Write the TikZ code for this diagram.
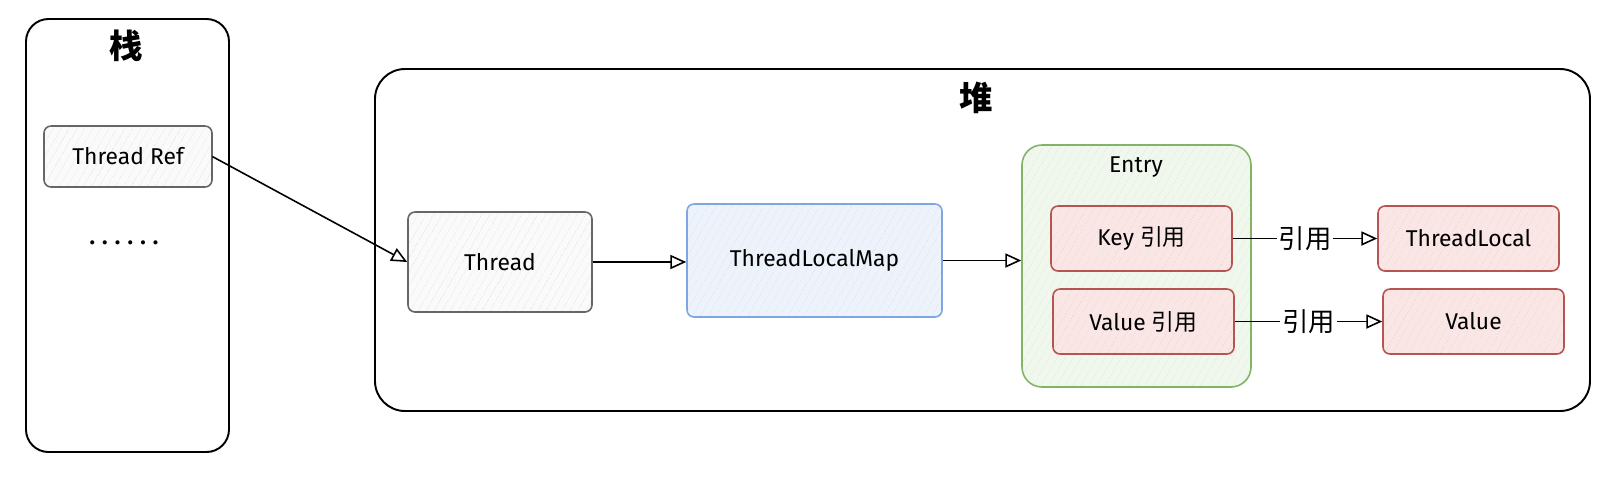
\documentclass[tikz,border=0pt]{standalone}
\usepackage{fontspec}
\setmainfont{Fira Sans}
\newfontfamily\cjk{Noto Sans CJK SC}
\usetikzlibrary{arrows.meta,patterns.meta,positioning}

\definecolor{grayline}{HTML}{666666}
\definecolor{mapline}{HTML}{7EA6E0}
\definecolor{mapfill}{HTML}{EEF3FB}
\definecolor{refline}{HTML}{B85450}
\definecolor{reffill}{HTML}{FAE6E5}
\definecolor{entryline}{HTML}{82B366}
\definecolor{entryfill}{HTML}{F0F7ED}

\tikzset{
  box/.style={draw, rounded corners=4pt, line width=0.9pt, minimum width=3.62cm,
    minimum height=1.3cm, font=\fontsize{13}{15}\selectfont},
  hatch/.style={pattern={Lines[angle=60,distance=4pt,line width=0.35pt]}, pattern color=#1},
  graybox/.style={box, draw=grayline, preaction={fill=black!2}, hatch=black!9},
  mapbox/.style={box, draw=mapline, preaction={fill=mapfill}, hatch=mapline!30},
  refbox/.style={box, draw=refline, preaction={fill=reffill}, hatch=refline!25},
  area/.style={draw, line width=1.1pt, rounded corners=#1},
  title/.style={font=\cjk\bfseries\fontsize{19}{21}\selectfont},
  arr/.style={-{Triangle[open,length=9pt,width=8pt]}, line width=0.9pt},
  reflabel/.style={fill=white, inner sep=1pt, font=\cjk\fontsize{15}{17}\selectfont}
}

\begin{document}
\begin{tikzpicture}
  \useasboundingbox (0,0) rectangle (32.38,-9.6);

  % stack
  \node[area=0.45cm, minimum width=4.06cm, minimum height=8.66cm] (stack) at (2.55,-4.71) {};
  \node[title] (stacktitle) at (2.52,-0.92) {栈};
  \node[graybox, minimum width=3.36cm, minimum height=1.22cm] (ref) at (2.56,-3.13) {Thread Ref};
  \node[font=\bfseries\fontsize{13}{15}\selectfont] (dots) at (2.48,-4.85) {. . . . . .};

  % heap
  \node[area=0.6cm, minimum width=24.3cm, minimum height=6.84cm] (heap) at (19.65,-4.8) {};
  \node[title] (heaptitle) at (19.52,-1.96) {堆};

  \node[graybox, minimum width=3.68cm, minimum height=2cm] (thread) at (10.0,-5.24) {Thread};
  \node[mapbox, minimum width=5.1cm, minimum height=2.26cm] (map) at (16.29,-5.21) {ThreadLocalMap};

  \node[box, rounded corners=0.4cm, draw=entryline, preaction={fill=entryfill}, hatch=entryline!25,
    minimum width=4.58cm, minimum height=4.84cm] (entry) at (22.73,-5.32) {};
  \node[font=\fontsize{13}{15}\selectfont] (entrytitle) at (22.72,-3.34) {Entry};
  \node[refbox] (key) at (22.83,-4.77) {Key {\cjk 引用}};
  \node[refbox] (val) at (22.87,-6.43) {Value {\cjk 引用}};

  \node[refbox] (tl) at (29.37,-4.77) {ThreadLocal};
  \node[refbox] (obj) at (29.47,-6.43) {Value};

  % references
  \draw[arr] (ref.east) -- (thread.west);
  \draw[arr] (thread.east) -- (thread.east -| map.west);
  \draw[arr] (map.east) -- (map.east -| entry.west);
  \draw[arr] (key.east) -- node[reflabel] {引用} (tl.west);
  \draw[arr] (val.east) -- node[reflabel] {引用} (obj.west);
\end{tikzpicture}
\end{document}
